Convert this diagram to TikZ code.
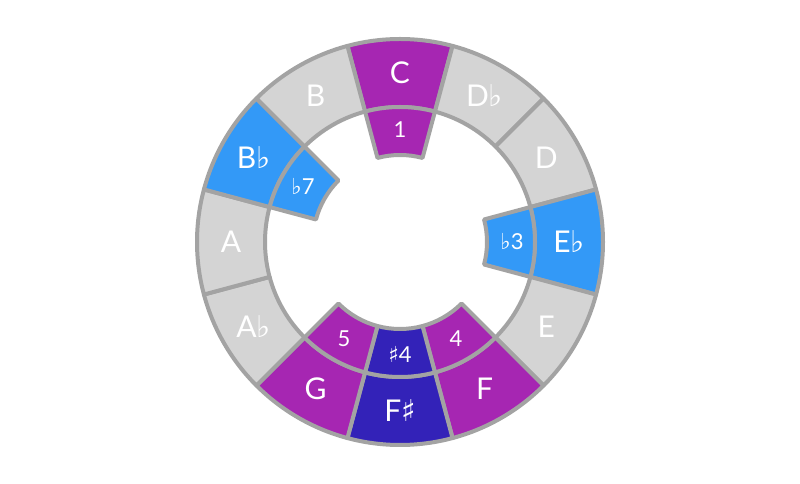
\documentclass[tikz,border=0pt]{standalone}
\usepackage{fontspec}
\setmainfont{Lato}
\newfontfamily\symfont{DejaVu Sans}
\newcommand{\fl}{{\symfont\char"266D}}
\newcommand{\shp}{{\symfont\char"266F}}
\definecolor{ringgray}{HTML}{D4D4D4}
\definecolor{edgegray}{HTML}{A3A3A3}
\definecolor{notemag}{HTML}{A626B2}
\definecolor{noteblue}{HTML}{3399F7}
\definecolor{notedark}{HTML}{3322B8}

\begin{document}
\begin{tikzpicture}[x=1pt, y=1pt,
            sector/.style={draw=edgegray, line width=4pt, line join=round},
            outerlbl/.style={text=white, font=\fontsize{30}{30}\selectfont},
            innerlbl/.style={text=white, font=\fontsize{22}{22}\selectfont}]
        \useasboundingbox (0,0) rectangle (800,484);
        % outer ring
        \foreach \ang/\col/\txt [count=\i] in {90/notemag/C, 60/ringgray/D\fl, 30/ringgray/D,
                 0/noteblue/E\fl, -30/ringgray/E, -60/notemag/F, -90/notedark/F\shp,
                 -120/notemag/G, -150/ringgray/A\fl, 180/ringgray/A, 150/noteblue/B\fl,
                 120/ringgray/B} {
            \begin{scope}[shift={(400,242)}]
                \filldraw[sector, fill=\col] (\ang-15:203) arc (\ang-15:\ang+15:203)
                    -- (\ang+15:135) arc (\ang+15:\ang-15:135) -- cycle;
                \node[outerlbl] (note\i) at (\ang:169) {\txt};
            \end{scope}
        }
        % inner degrees
        \foreach \ang/\col/\txt [count=\i] in {90/notemag/1, 0/noteblue/\fl3, -60/notemag/4,
                 -90/notedark/\shp4, -120/notemag/5, 150/noteblue/\fl7} {
            \begin{scope}[shift={(400,242)}]
                \filldraw[sector, fill=\col] (\ang-15:135) arc (\ang-15:\ang+15:135)
                    -- (\ang+15:87) arc (\ang+15:\ang-15:87) -- cycle;
                \node[innerlbl] (deg\i) at (\ang:112) {\txt};
            \end{scope}
        }
        \end{tikzpicture}
\end{document}
